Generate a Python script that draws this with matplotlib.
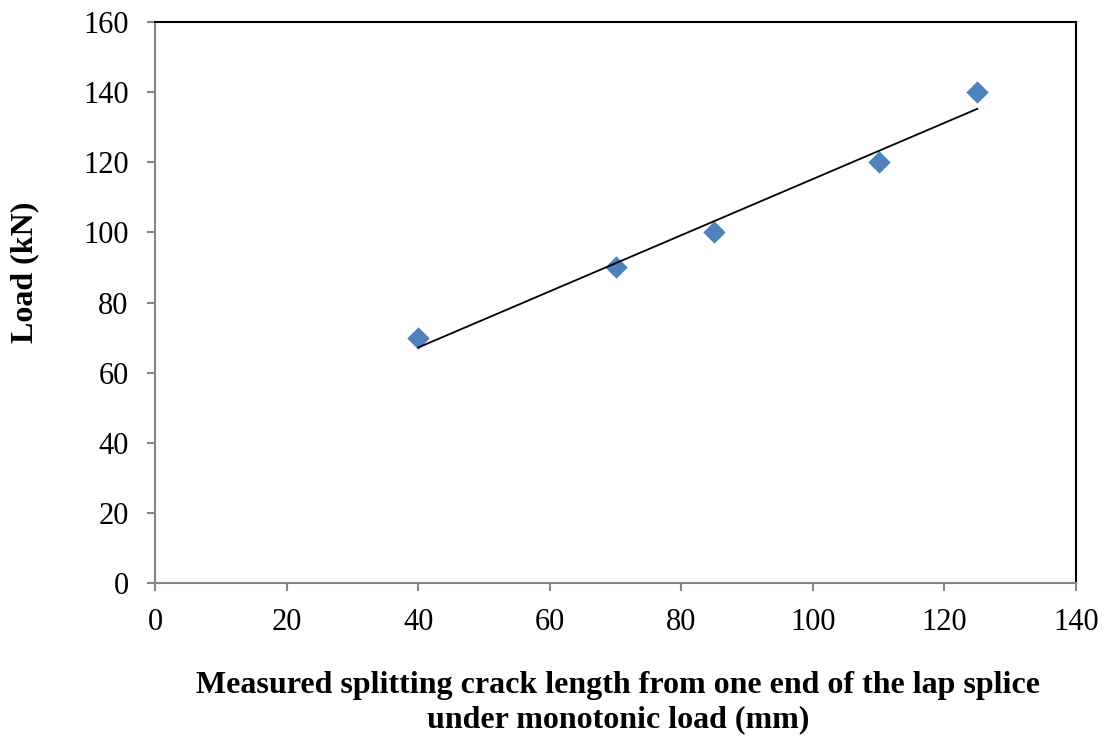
import matplotlib
matplotlib.use("Agg")
import matplotlib.pyplot as plt
import numpy as np

crack_length = [40, 70, 85, 110, 125]
load = [70, 90, 100, 120, 140]
x_ticks = [0, 20, 40, 60, 80, 100, 120, 140]
y_ticks = [0, 20, 40, 60, 80, 100, 120, 140, 160]

plt.rcParams['font.family'] = ['Liberation Serif', 'DejaVu Serif']

W, H = 1107, 736
fig = plt.figure(figsize=(W / 100, H / 100), dpi=100)
ax = fig.add_axes([155 / W, 1 - 583 / H, 921 / W, 561 / H])

ax.scatter(crack_length, load, marker='D', s=130, color='#4F81BD', zorder=2, linewidths=0)
coef = np.polyfit(crack_length, load, 1)
xs = np.array([min(crack_length), max(crack_length)])
ax.plot(xs, np.polyval(coef, xs), color='black', lw=1.3, zorder=3)

ax.set_xlim(0, 140)
ax.set_ylim(0, 160)
ax.set_xticks(x_ticks)
ax.set_yticks(y_ticks)
ax.tick_params(axis='both', labelsize=22, direction='out', length=6, width=1.5, color='#868686')
ax.tick_params(axis='x', pad=12)
ax.tick_params(axis='y', pad=13)

for s in ['left', 'bottom']:
    ax.spines[s].set_color('#868686')
    ax.spines[s].set_linewidth(1.5)
for s in ['top', 'right']:
    ax.spines[s].set_color('black')
    ax.spines[s].set_linewidth(1.5)

fig.text(25 / W, 1 - 272 / H, 'Load (kN)', rotation=90, ha='center', va='center',
         fontsize=23, fontweight='bold')
fig.text(617.5 / W, 1 - 693 / H, 'Measured splitting crack length from one end of the lap splice',
         ha='center', va='baseline', fontsize=23, fontweight='bold')
fig.text(618 / W, 1 - 727 / H, 'under monotonic load (mm)',
         ha='center', va='baseline', fontsize=23, fontweight='bold')

fig.savefig('out.png', dpi=100)
